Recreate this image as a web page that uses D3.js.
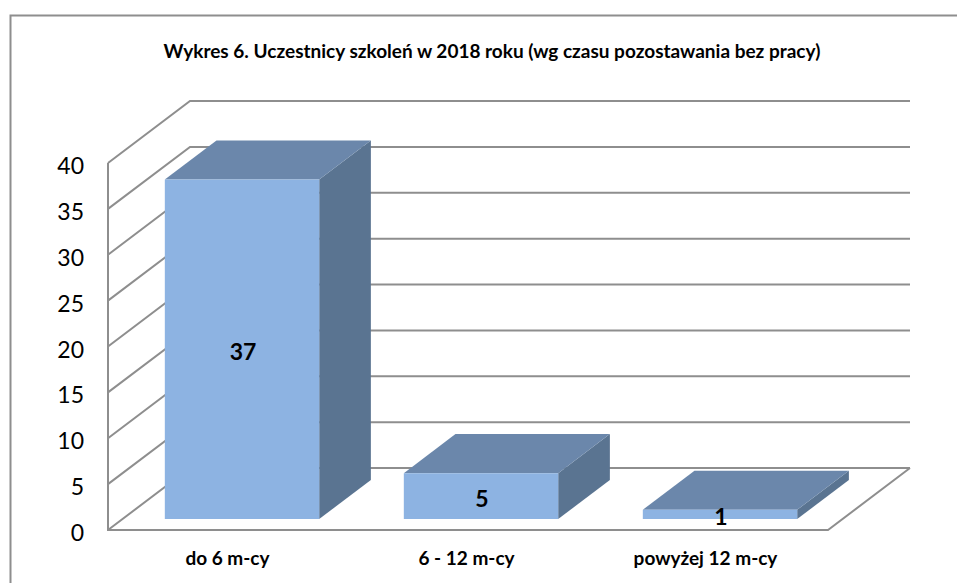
<!DOCTYPE html>
<html>
<head>
<meta charset="utf-8">
<script src="https://cdnjs.cloudflare.com/ajax/libs/d3/7.8.5/d3.min.js"></script>
<style>
html, body { margin: 0; padding: 0; background: #fff; }
svg { display: block; font-family: Lato, "Open Sans", sans-serif; }
</style>
</head>
<body>
<div id="chart"></div>
<script>
const titleText = "Wykres 6. Uczestnicy szkoleń w 2018 roku (wg czasu pozostawania bez pracy)";
const categories = ["do 6 m-cy", "6 - 12 m-cy", "powyżej 12 m-cy"];
const values = [37, 5, 1];
const yTicks = [0, 5, 10, 15, 20, 25, 30, 35, 40];

const width = 957, height = 583;
const gridColor = "#8e8e8e";

const svg = d3.select("#chart").append("svg")
    .attr("width", width)
    .attr("height", height);

// outer chart frame, only left and top edge are inside the picture
svg.append("path")
    .attr("d", "M10.5,583V15.5H957")
    .attr("fill", "none")
    .attr("stroke", gridColor)
    .attr("stroke-width", 2);

const xScale = d3.scaleBand()
    .domain(categories)
    .range([108, 825])
    .paddingInner(0.354)
    .paddingOuter(0.177);

const yScale = d3.scaleLinear()
    .domain([0, 40])
    .range([530, 163]);

// fake 3d: depth 0 is the front of the floor, depth 1 is the back wall
const depthX = 82, depthY = -62;
const barFront = 0.177, barBack = 0.807;
const floorLeft = 108, floorRight = 828;

function project(x, value, depth) {
    return [x + depthX * depth, yScale(value) + depthY * depth];
}

const poly = d3.line();

// grid lines on left and back wall
const grid = svg.append("g")
    .attr("fill", "none")
    .attr("stroke", gridColor)
    .attr("stroke-width", 2);

grid.selectAll("path.tick")
    .data(yTicks)
    .enter().append("path")
    .attr("class", "tick")
    .attr("d", d => poly([
        project(floorLeft, d, 0),
        project(floorLeft, d, 1),
        project(floorRight, d, 1)
    ]));

// floor and axis line
grid.append("path")
    .attr("d", poly([
        project(floorLeft, 40, 0),
        project(floorLeft, 0, 0),
        project(floorRight, 0, 0),
        project(floorRight, 0, 1)
    ]));

// bars
const bars = svg.selectAll("g.bar")
    .data(categories.map((c, i) => ({ cat: c, value: values[i] })))
    .enter().append("g")
    .attr("class", "bar");

bars.append("path")
    .attr("fill", "#5a7491")
    .attr("d", d => {
        const x1 = xScale(d.cat) + xScale.bandwidth();
        return poly([
            project(x1, 0, barFront),
            project(x1, 0, barBack),
            project(x1, d.value, barBack),
            project(x1, d.value, barFront)
        ]) + "Z";
    });

bars.append("path")
    .attr("fill", "#6b87ab")
    .attr("d", d => {
        const x0 = xScale(d.cat), x1 = x0 + xScale.bandwidth();
        return poly([
            project(x0, d.value, barFront),
            project(x0, d.value, barBack),
            project(x1, d.value, barBack),
            project(x1, d.value, barFront)
        ]) + "Z";
    });

bars.append("path")
    .attr("fill", "#8db3e2")
    .attr("d", d => {
        const x0 = xScale(d.cat), x1 = x0 + xScale.bandwidth();
        return poly([
            project(x0, 0, barFront),
            project(x0, d.value, barFront),
            project(x1, d.value, barFront),
            project(x1, 0, barFront)
        ]) + "Z";
    });

// value labels
bars.append("text")
    .attr("x", d => project(xScale(d.cat) + xScale.bandwidth() / 2, 0, barFront)[0] + 1)
    .attr("y", d => project(0, d.value / 2, barFront)[1] + 11)
    .attr("text-anchor", "middle")
    .attr("font-size", 23)
    .attr("font-weight", "bold")
    .attr("fill", "#000")
    .text(d => d.value);

// y axis labels
svg.selectAll("text.ytick")
    .data(yTicks)
    .enter().append("text")
    .attr("class", "ytick")
    .attr("x", 84)
    .attr("y", d => yScale(d) + 11)
    .attr("text-anchor", "end")
    .attr("font-size", 23)
    .attr("fill", "#000")
    .text(d => d);

// x axis labels
svg.selectAll("text.xcat")
    .data(categories)
    .enter().append("text")
    .attr("class", "xcat")
    .attr("x", d => xScale(d) + xScale.bandwidth() / 2)
    .attr("y", 565)
    .attr("text-anchor", "middle")
    .attr("font-size", 19)
    .attr("font-weight", "bold")
    .attr("fill", "#000")
    .text(d => d);

svg.append("text")
    .attr("x", 492)
    .attr("y", 58)
    .attr("text-anchor", "middle")
    .attr("font-size", 19)
    .attr("font-weight", "bold")
    .attr("fill", "#000")
    .text(titleText);
</script>
</body>
</html>
